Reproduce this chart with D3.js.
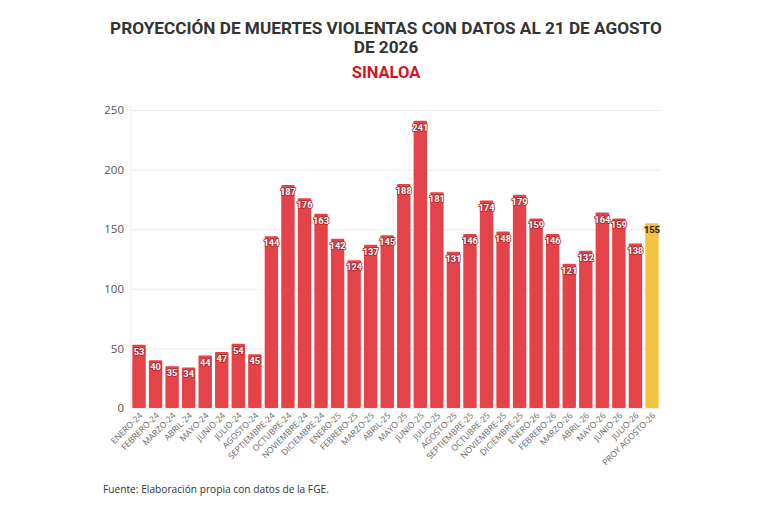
<!DOCTYPE html>
<html>
<head>
<meta charset="utf-8">
<script src="https://cdn.jsdelivr.net/npm/d3@7/dist/d3.min.js"></script>
<style>
  html, body { margin: 0; padding: 0; background: #fff; }
  svg { display: block; }
</style>
</head>
<body>
<svg id="chart" width="768" height="512"></svg>
<script>
const categories = ["ENERO-24","FEBRERO-24","MARZO-24","ABRIL-24","MAYO-24","JUNIO-24","JULIO-24","AGOSTO-24","SEPTIEMBRE-24","OCTUBRE-24","NOVIEMBRE-24","DICIEMBRE-24","ENERO-25","FEBRERO-25","MARZO-25","ABRIL-25","MAYO-25","JUNIO-25","JULIO-25","AGOSTO-25","SEPTIEMBRE-25","OCTUBRE-25","NOVIEMBRE-25","DICIEMBRE-25","ENERO-26","FEBRERO-26","MARZO-26","ABRIL-26","MAYO-26","JUNIO-26","JULIO-26","PROY AGOSTO-26"];
const values = [53,40,35,34,44,47,54,45,144,187,176,163,142,124,137,145,188,241,181,131,146,174,148,179,159,146,121,132,164,159,138,155];
const projected = [false,false,false,false,false,false,false,false,false,false,false,false,false,false,false,false,false,false,false,false,false,false,false,false,false,false,false,false,false,false,false,true];
const yTicks = [0,50,100,150,200,250];
const titleLines = ["PROYECCIÓN DE MUERTES VIOLENTAS CON DATOS AL 21 DE AGOSTO","DE 2026"];
const subtitle = "SINALOA";
const source = "Fuente: Elaboración propia con datos de la FGE.";

const svg = d3.select("#chart");
const mLeft = 131, mRight = 660, mTop = 110, mBottom = 408;

const x = d3.scaleBand().domain(categories).range([mLeft, mRight]).paddingInner(0.19).paddingOuter(0.08);
const y = d3.scaleLinear().domain([0, 250]).range([mBottom, mTop]);

// title
svg.append("g").selectAll("text").data(titleLines).join("text")
  .attr("x", 386).attr("y", (d, i) => 34 + i * 19)
  .attr("text-anchor", "middle")
  .attr("font-family", "Roboto, 'Liberation Sans', sans-serif")
  .attr("font-weight", "700").attr("font-size", 17.2)
  .attr("fill", "#333").text(d => d);
svg.append("text").attr("x", 386).attr("y", 78)
  .attr("text-anchor", "middle")
  .attr("font-family", "Roboto, 'Liberation Sans', sans-serif")
  .attr("font-weight", "700").attr("font-size", 16.5)
  .attr("fill", "#d7141f").text(subtitle);

// grid
const yAxis = d3.axisLeft(y).tickValues(yTicks).tickSize(-(mRight - mLeft)).tickPadding(7);
const gy = svg.append("g").attr("transform", `translate(${mLeft},0)`).call(yAxis);
gy.select(".domain").remove();
gy.selectAll(".tick line").attr("stroke", "#ececec").attr("stroke-width", 1);
gy.selectAll(".tick text").attr("font-family", "'Open Sans', 'Noto Sans', sans-serif")
  .attr("font-size", 11.5).attr("fill", "#555");
svg.append("line").attr("x1", mLeft).attr("x2", mLeft).attr("y1", mTop - 5).attr("y2", mBottom)
  .attr("stroke", "#eeeeee");

// bars
svg.append("g").selectAll("rect").data(values).join("rect")
  .attr("x", (d, i) => x(categories[i]))
  .attr("y", d => y(d))
  .attr("width", x.bandwidth())
  .attr("height", d => y(0) - y(d))
  .attr("rx", 1)
  .attr("fill", (d, i) => projected[i] ? "#f2c442" : "#e4434a");

// value labels
svg.append("g").selectAll("text").data(values).join("text")
  .attr("x", (d, i) => x(categories[i]) + x.bandwidth() / 2)
  .attr("y", d => y(d) + 10)
  .attr("text-anchor", "middle")
  .attr("font-family", "Roboto, 'Liberation Sans', sans-serif")
  .attr("font-weight", "700").attr("font-size", 9.3)
  .attr("paint-order", "stroke")
  .attr("stroke", (d, i) => projected[i] ? "#e8b830" : "#a8262c")
  .attr("stroke-width", 1.6)
  .attr("stroke-linejoin", "round")
  .attr("fill", (d, i) => projected[i] ? "#222" : "#fff")
  .text(d => d);

// x labels
const xAxis = d3.axisBottom(x).tickSize(0).tickPadding(0);
const gx = svg.append("g").attr("transform", `translate(0,${mBottom})`).call(xAxis);
gx.select(".domain").remove();
gx.selectAll(".tick text")
  .attr("font-family", "'Open Sans', 'Noto Sans', sans-serif")
  .attr("font-size", 8.5).attr("fill", "#666")
  .attr("text-anchor", "end")
  .attr("dy", 0)
  .attr("transform", "translate(4,8) rotate(-45)");

// source
svg.append("text").attr("x", 103).attr("y", 493)
  .attr("font-family", "'Open Sans', 'Noto Sans', sans-serif")
  .attr("font-size", 10.2).attr("fill", "#333").text(source);
</script>
</body>
</html>
